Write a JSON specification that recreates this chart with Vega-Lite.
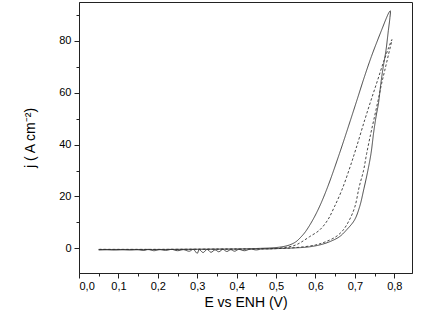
{
  "$schema": "https://vega.github.io/schema/vega-lite/v6.json",
  "width": 333,
  "height": 271,
  "autosize": "none",
  "padding": {"left": 79, "top": 2, "right": 25, "bottom": 41},
  "background": "white",
  "config": {
    "view": {"stroke": "#222", "strokeWidth": 1},
    "font": "Liberation Sans",
    "axis": {"labelFont": "Liberation Sans", "titleFont": "Liberation Sans", "labelColor": "#000", "titleColor": "#000", "domainColor": "#222", "tickColor": "#222", "grid": false, "titleFontWeight": "normal"}
  },
  "datasets": {
    "cv": [
      {"s":"solid","i":1,"E":0.050,"j":-0.6},
      {"s":"solid","i":2,"E":0.070,"j":-0.5},
      {"s":"solid","i":3,"E":0.090,"j":-0.6},
      {"s":"solid","i":4,"E":0.110,"j":-0.5},
      {"s":"solid","i":5,"E":0.130,"j":-0.6},
      {"s":"solid","i":6,"E":0.150,"j":-0.5},
      {"s":"solid","i":7,"E":0.165,"j":-0.8},
      {"s":"solid","i":8,"E":0.175,"j":-0.4},
      {"s":"solid","i":9,"E":0.190,"j":-0.9},
      {"s":"solid","i":10,"E":0.205,"j":-0.5},
      {"s":"solid","i":11,"E":0.220,"j":-0.8},
      {"s":"solid","i":12,"E":0.235,"j":-0.4},
      {"s":"solid","i":13,"E":0.250,"j":-0.9},
      {"s":"solid","i":14,"E":0.265,"j":-0.5},
      {"s":"solid","i":15,"E":0.280,"j":-1.1},
      {"s":"solid","i":16,"E":0.290,"j":-0.4},
      {"s":"solid","i":17,"E":0.300,"j":-1.9},
      {"s":"solid","i":18,"E":0.305,"j":-0.5},
      {"s":"solid","i":19,"E":0.315,"j":-1.6},
      {"s":"solid","i":20,"E":0.325,"j":-0.4},
      {"s":"solid","i":21,"E":0.335,"j":-1.5},
      {"s":"solid","i":22,"E":0.345,"j":-0.6},
      {"s":"solid","i":23,"E":0.355,"j":-1.3},
      {"s":"solid","i":24,"E":0.365,"j":-0.4},
      {"s":"solid","i":25,"E":0.375,"j":-1.2},
      {"s":"solid","i":26,"E":0.385,"j":-0.5},
      {"s":"solid","i":27,"E":0.395,"j":-1.1},
      {"s":"solid","i":28,"E":0.405,"j":-0.4},
      {"s":"solid","i":29,"E":0.420,"j":-0.9},
      {"s":"solid","i":30,"E":0.435,"j":-0.3},
      {"s":"solid","i":31,"E":0.450,"j":-0.6},
      {"s":"solid","i":32,"E":0.465,"j":-0.2},
      {"s":"solid","i":33,"E":0.480,"j":-0.2},
      {"s":"solid","i":34,"E":0.500,"j":-0.1},
      {"s":"solid","i":35,"E":0.520,"j":0.0},
      {"s":"solid","i":36,"E":0.550,"j":0.2},
      {"s":"solid","i":37,"E":0.580,"j":0.5},
      {"s":"solid","i":38,"E":0.610,"j":1.3},
      {"s":"solid","i":39,"E":0.635,"j":2.5},
      {"s":"solid","i":40,"E":0.661,"j":4.5},
      {"s":"solid","i":41,"E":0.680,"j":7.3},
      {"s":"solid","i":42,"E":0.699,"j":10.9},
      {"s":"solid","i":43,"E":0.712,"j":16},
      {"s":"solid","i":44,"E":0.723,"j":23},
      {"s":"solid","i":45,"E":0.733,"j":30},
      {"s":"solid","i":46,"E":0.741,"j":36.6},
      {"s":"solid","i":47,"E":0.748,"j":45},
      {"s":"solid","i":48,"E":0.754,"j":51},
      {"s":"solid","i":49,"E":0.760,"j":56},
      {"s":"solid","i":50,"E":0.766,"j":63.6},
      {"s":"solid","i":51,"E":0.772,"j":70},
      {"s":"solid","i":52,"E":0.779,"j":76.4},
      {"s":"solid","i":53,"E":0.785,"j":84},
      {"s":"solid","i":54,"E":0.789,"j":89},
      {"s":"solid","i":55,"E":0.790,"j":91.6},
      {"s":"solid","i":56,"E":0.786,"j":90.8},
      {"s":"solid","i":57,"E":0.780,"j":88.8},
      {"s":"solid","i":58,"E":0.770,"j":85},
      {"s":"solid","i":59,"E":0.757,"j":80},
      {"s":"solid","i":60,"E":0.742,"j":74},
      {"s":"solid","i":61,"E":0.725,"j":66.5},
      {"s":"solid","i":62,"E":0.706,"j":57.5},
      {"s":"solid","i":63,"E":0.689,"j":49.5},
      {"s":"solid","i":64,"E":0.661,"j":36.6},
      {"s":"solid","i":65,"E":0.631,"j":23.7},
      {"s":"solid","i":66,"E":0.610,"j":16},
      {"s":"solid","i":67,"E":0.593,"j":10.9},
      {"s":"solid","i":68,"E":0.575,"j":6.5},
      {"s":"solid","i":69,"E":0.564,"j":4.5},
      {"s":"solid","i":70,"E":0.550,"j":2.5},
      {"s":"solid","i":71,"E":0.534,"j":1.3},
      {"s":"solid","i":72,"E":0.515,"j":0.6},
      {"s":"solid","i":73,"E":0.490,"j":0.2},
      {"s":"solid","i":74,"E":0.460,"j":0.0},
      {"s":"solid","i":75,"E":0.420,"j":-0.2},
      {"s":"solid","i":76,"E":0.350,"j":-0.3},
      {"s":"solid","i":77,"E":0.250,"j":-0.4},
      {"s":"solid","i":78,"E":0.150,"j":-0.5},
      {"s":"solid","i":79,"E":0.050,"j":-0.5},
      {"s":"dashed","i":1,"E":0.050,"j":-0.4},
      {"s":"dashed","i":2,"E":0.200,"j":-0.4},
      {"s":"dashed","i":3,"E":0.350,"j":-0.3},
      {"s":"dashed","i":4,"E":0.450,"j":-0.2},
      {"s":"dashed","i":5,"E":0.500,"j":-0.1},
      {"s":"dashed","i":6,"E":0.550,"j":0.3},
      {"s":"dashed","i":7,"E":0.600,"j":1.3},
      {"s":"dashed","i":8,"E":0.625,"j":2.5},
      {"s":"dashed","i":9,"E":0.652,"j":4.5},
      {"s":"dashed","i":10,"E":0.670,"j":7},
      {"s":"dashed","i":11,"E":0.686,"j":10.9},
      {"s":"dashed","i":12,"E":0.700,"j":16},
      {"s":"dashed","i":13,"E":0.711,"j":23.7},
      {"s":"dashed","i":14,"E":0.722,"j":30},
      {"s":"dashed","i":15,"E":0.730,"j":36.6},
      {"s":"dashed","i":16,"E":0.740,"j":44},
      {"s":"dashed","i":17,"E":0.748,"j":49.5},
      {"s":"dashed","i":18,"E":0.759,"j":57.1},
      {"s":"dashed","i":19,"E":0.768,"j":63.6},
      {"s":"dashed","i":20,"E":0.776,"j":68.7},
      {"s":"dashed","i":21,"E":0.785,"j":74.5},
      {"s":"dashed","i":22,"E":0.794,"j":80.5},
      {"s":"dashed","i":23,"E":0.786,"j":77.5},
      {"s":"dashed","i":24,"E":0.773,"j":72},
      {"s":"dashed","i":25,"E":0.757,"j":64.5},
      {"s":"dashed","i":26,"E":0.741,"j":57.1},
      {"s":"dashed","i":27,"E":0.725,"j":49.5},
      {"s":"dashed","i":28,"E":0.703,"j":38.5},
      {"s":"dashed","i":29,"E":0.687,"j":31},
      {"s":"dashed","i":30,"E":0.667,"j":22.5},
      {"s":"dashed","i":31,"E":0.648,"j":16},
      {"s":"dashed","i":32,"E":0.631,"j":10.9},
      {"s":"dashed","i":33,"E":0.610,"j":7},
      {"s":"dashed","i":34,"E":0.585,"j":4.5},
      {"s":"dashed","i":35,"E":0.565,"j":2.5},
      {"s":"dashed","i":36,"E":0.550,"j":1.3},
      {"s":"dashed","i":37,"E":0.530,"j":0.5},
      {"s":"dashed","i":38,"E":0.500,"j":0.0},
      {"s":"dashed","i":39,"E":0.460,"j":-0.2},
      {"s":"dashed","i":40,"E":0.350,"j":-0.3},
      {"s":"dashed","i":41,"E":0.200,"j":-0.4},
      {"s":"dashed","i":42,"E":0.050,"j":-0.4}
    ]
  },
  "data": {"name": "cv"},
  "mark": {"type": "line", "strokeWidth": 0.9, "color": "#333", "clip": true, "interpolate": "catmull-rom"},
  "encoding": {
    "x": {
      "field": "E", "type": "quantitative",
      "scale": {"domain": [0, 0.845], "nice": false, "zero": false},
      "axis": {
        "title": "E vs ENH (V)",
        "titleFontSize": 14,
        "titlePadding": 4,
        "labelFontSize": 11,
        "labelPadding": 2,
        "values": [0,0.05,0.1,0.15,0.2,0.25,0.3,0.35,0.4,0.45,0.5,0.55,0.6,0.65,0.7,0.75,0.8],
        "labelExpr": "round(datum.value*100)%10==0 ? replace(format(datum.value,'.1f'),'.',',') : ''",
        "tickSize": {"condition": {"test": "round(datum.value*100)%10!=0", "value": 3}, "value": 5}
      }
    },
    "y": {
      "field": "j", "type": "quantitative",
      "scale": {"domain": [-9.5, 95], "nice": false, "zero": false},
      "axis": {
        "title": "j (  A cm⁻²)",
        "titleFontSize": 14,
        "titlePadding": 21,
        "labelFontSize": 11,
        "labelPadding": 3,
        "values": [0,10,20,30,40,50,60,70,80,90],
        "labelExpr": "datum.value%20==0 ? datum.value : ''",
        "tickSize": {"condition": {"test": "datum.value%20!=0", "value": 3}, "value": 5}
      }
    },
    "detail": {"field": "s"},
    "order": {"field": "i", "type": "quantitative"},
    "strokeDash": {
      "field": "s", "type": "nominal",
      "scale": {"domain": ["solid","dashed"], "range": [[1,0],[2.5,2]]},
      "legend": null
    }
  }
}
